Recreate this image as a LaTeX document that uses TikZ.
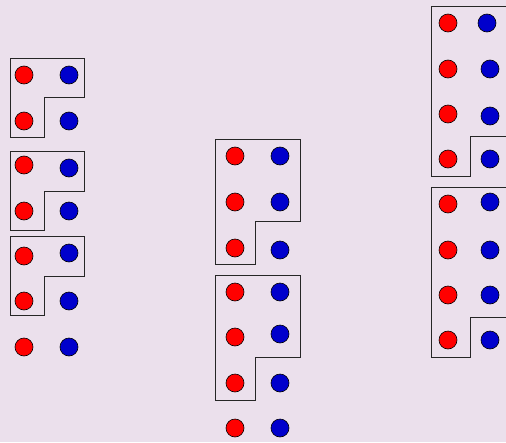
\documentclass[tikz,border=0pt]{standalone}
\definecolor{bg}{RGB}{235,224,236}
\definecolor{dotred}{RGB}{255,0,0}
\definecolor{dotblue}{RGB}{0,0,204}
\begin{document}
\begin{tikzpicture}[x=1pt,y=-1pt,
  rd/.style={circle,draw=black,line width=0.6pt,fill=dotred,minimum size=18pt,inner sep=0pt},
  bd/.style={circle,draw=black,line width=0.6pt,fill=dotblue,minimum size=18pt,inner sep=0pt},
  frame/.style={draw=black!85,line width=0.8pt}]
\fill[bg] (0,0) rectangle (506,442);
\useasboundingbox (0,0) rectangle (506,442);
\clip (0,0) rectangle (506,442);
% left column frames
\draw[frame] (10,58.5) -- (84,58.5) -- (84,97.5) -- (44,97.5) -- (44,137) -- (10,137) -- cycle;
\draw[frame] (10,151.5) -- (84,151.5) -- (84,191) -- (44,191) -- (44,230.5) -- (10,230.5) -- cycle;
\draw[frame] (10,236.5) -- (84,236.5) -- (84,276) -- (44,276) -- (44,315) -- (10,315) -- cycle;
% middle column frames
\draw[frame] (215.5,139.5) -- (300.5,139.5) -- (300.5,221.5) -- (255,221.5) -- (255,264) -- (215.5,264) -- cycle;
\draw[frame] (215.5,275.5) -- (300.5,275.5) -- (300.5,357.5) -- (255,357.5) -- (255,400) -- (215.5,400) -- cycle;
% right column frames
\draw[frame] (510,6.5) -- (431,6.5) -- (431,176) -- (470.5,176) -- (470.5,136.5) -- (510,136.5);
\draw[frame] (510,187.5) -- (431,187.5) -- (431,357) -- (470.5,357) -- (470.5,317.5) -- (510,317.5);
% left column dots
\node[rd] (l1a) at (24,75) {}; \node[bd] (l1b) at (69,75) {};
\node[rd] (l2a) at (24,121) {}; \node[bd] (l2b) at (69,121) {};
\node[rd] (l3a) at (24,165) {}; \node[bd] (l3b) at (69,168) {};
\node[rd] (l4a) at (24,211) {}; \node[bd] (l4b) at (69,211) {};
\node[rd] (l5a) at (24,256) {}; \node[bd] (l5b) at (69,253) {};
\node[rd] (l6a) at (24,301) {}; \node[bd] (l6b) at (69,301) {};
\node[rd] (l7a) at (24,347) {}; \node[bd] (l7b) at (69,347) {};
% middle column dots
\node[rd] (m1a) at (235,156) {}; \node[bd] (m1b) at (280,156) {};
\node[rd] (m2a) at (235,202) {}; \node[bd] (m2b) at (280,202) {};
\node[rd] (m3a) at (235,248) {}; \node[bd] (m3b) at (280,250) {};
\node[rd] (m4a) at (235,292) {}; \node[bd] (m4b) at (280,292) {};
\node[rd] (m5a) at (235,337) {}; \node[bd] (m5b) at (280,334) {};
\node[rd] (m6a) at (235,383) {}; \node[bd] (m6b) at (280,383) {};
\node[rd] (m7a) at (235,428) {}; \node[bd] (m7b) at (280,428) {};
% right column dots
\node[rd] (r1a) at (448,23) {}; \node[bd] (r1b) at (487,23) {};
\node[rd] (r2a) at (448,69) {}; \node[bd] (r2b) at (490,69) {};
\node[rd] (r3a) at (448,114) {}; \node[bd] (r3b) at (490,116) {};
\node[rd] (r4a) at (448,159) {}; \node[bd] (r4b) at (490,159) {};
\node[rd] (r5a) at (448,204) {}; \node[bd] (r5b) at (490,202) {};
\node[rd] (r6a) at (448,250) {}; \node[bd] (r6b) at (490,250) {};
\node[rd] (r7a) at (448,295) {}; \node[bd] (r7b) at (490,295) {};
\node[rd] (r8a) at (448,340) {}; \node[bd] (r8b) at (490,340) {};
\end{tikzpicture}
\end{document}
